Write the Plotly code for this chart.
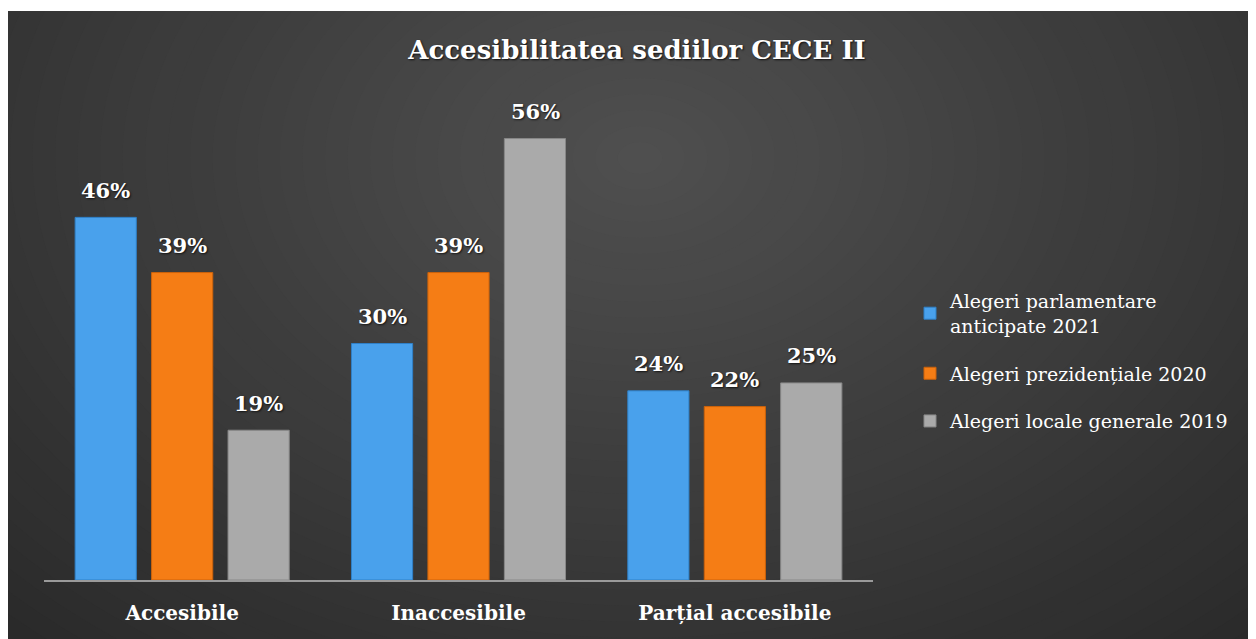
import plotly.graph_objects as go

# ---------- Data ----------
categories = ["Accesibile", "Inaccesibile", "Parțial accesibile"]
series_names = [
    "Alegeri parlamentare<br>anticipate 2021",
    "Alegeri prezidențiale 2020",
    "Alegeri locale generale 2019",
]
parlamentare_2021 = [46, 30, 24]
prezidentiale_2020 = [39, 39, 22]
locale_2019 = [19, 56, 25]
colors = ["#49a1ec", "#f57d15", "#aaaaaa"]
edge_colors = ["#2f80c8", "#cc620a", "#888888"]

FONT = "DejaVu Serif"

# figure geometry (page body adds an 8px offset)
W, H = 1256, 639
L, R, T, B = 36, 391, 99, 67
PW, PH = W - L - R, H - T - B
SLOT = 76.5  # pixel width of one bar slot inside a group


def px_x(p):
    return (p - L) / PW


def px_y(p):
    return (H - B - p) / PH


all_series = [parlamentare_2021, prezidentiale_2020, locale_2019]

fig = go.Figure()
annotations = []
for k, (name, vals, col, edge) in enumerate(zip(series_names, all_series,
                                                colors, edge_colors)):
    fig.add_trace(go.Bar(
        x=categories, y=vals, name=name,
        marker=dict(color=col, line=dict(color=edge, width=1)),
        legendgroup=name,
        hoverinfo="x+y+name",
    ))
    for cat, v in zip(categories, vals):
        annotations.append(dict(
            x=cat, y=v, xref="x", yref="y", text=f"{v}%", showarrow=False,
            xshift=(k - 1) * SLOT, yshift=27, yanchor="middle",
            font=dict(family=FONT, size=21, color="white", weight="bold",
                      shadow="1px 1px 2px rgba(0,0,0,0.7)"),
        ))

# ---------- Background: dark radial gradient ----------
shapes = []
shapes.append(dict(type="rect", xref="paper", yref="paper", layer="below",
                   x0=px_x(-20), x1=px_x(W + 20), y0=px_y(-20), y1=px_y(H + 20),
                   fillcolor="#2a2a2a", line=dict(width=0)))
steps = 40
cx, cy = 632, 150
for i in range(steps):
    f = 1 - i / steps
    rx, ry = 900 * f, 640 * f
    v = int(round(0x2a + (0x4f - 0x2a) * (i + 1) / steps))
    shapes.append(dict(type="circle", xref="paper", yref="paper", layer="below",
                       x0=px_x(cx - rx), x1=px_x(cx + rx),
                       y0=px_y(cy + ry), y1=px_y(cy - ry),
                       fillcolor=f"rgb({v},{v},{v})", line=dict(width=0)))
# thin white strip at the top edge
shapes.append(dict(type="rect", xref="paper", yref="paper", layer="below",
                   x0=px_x(-50), x1=px_x(W + 50), y0=px_y(3), y1=px_y(-400),
                   fillcolor="white", line=dict(width=0)))

fig.update_layout(
    width=W, height=H,
    margin=dict(l=L, r=R, t=T, b=B),
    paper_bgcolor="#2a2a2a",
    plot_bgcolor="rgba(0,0,0,0)",
    shapes=shapes,
    annotations=annotations,
    title=dict(
        text="Accesibilitatea sediilor CECE II",
        x=629 / W, xanchor="center", y=1 - 42 / H, yanchor="middle",
        font=dict(family=FONT, size=26, color="white", weight="bold",
                  shadow="1px 1px 2px rgba(0,0,0,0.8)"),
    ),
    barmode="group",
    bargap=0.17,
    bargroupgap=0.2,
    xaxis=dict(
        showline=True, linecolor="#9a9a9a", linewidth=2,
        showgrid=False, ticks="", zeroline=False,
        tickfont=dict(family=FONT, size=20, color="white", weight="bold"),
        ticklabelstandoff=14,
        range=[-0.5, 2.5],
    ),
    yaxis=dict(range=[0, 60], visible=False, showgrid=False, zeroline=False),
    legend=dict(
        x=px_x(902), xanchor="left", y=px_y(274), yanchor="top",
        font=dict(family=FONT, size=19, color="white"),
        bgcolor="rgba(0,0,0,0)",
        itemwidth=30, tracegroupgap=20,
    ),
    showlegend=True,
)

fig.write_html("out.html")
